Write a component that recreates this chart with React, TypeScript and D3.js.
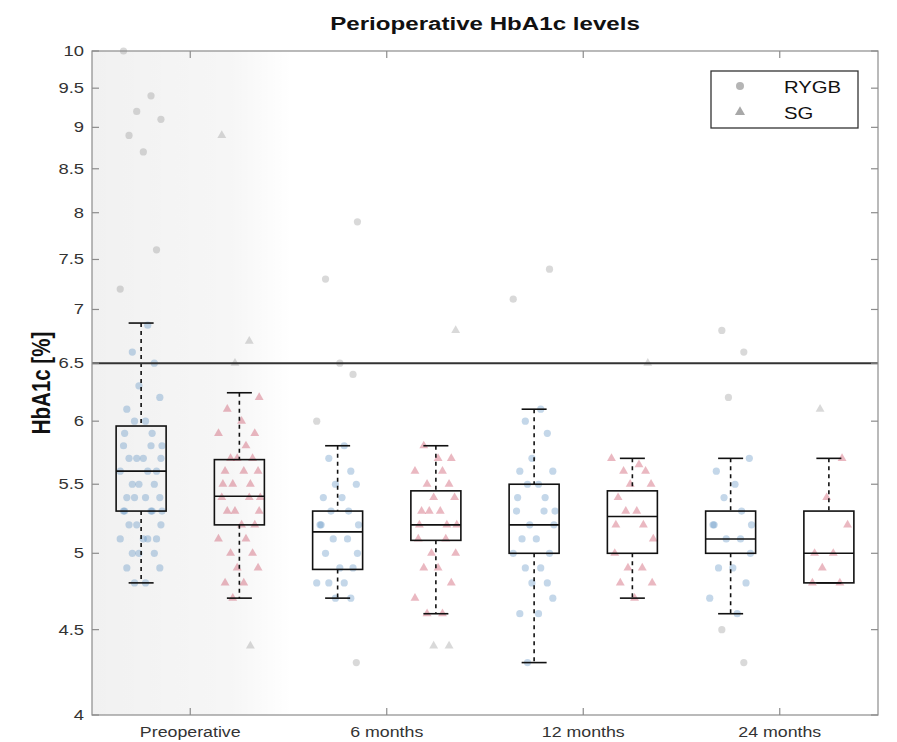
import React from "react";
import * as d3 from "d3";

// ---- data -------------------------------------------------------------
const groups = ["Preoperative", "6 months", "12 months", "24 months"];
const seriesNames = ["RYGB", "SG"];
const yTicks = [4, 4.5, 5, 5.5, 6, 6.5, 7, 7.5, 8, 8.5, 9, 9.5, 10];
const threshold = 6.5;

// box statistics per group: [lower whisker, Q1, median, Q3, upper whisker]
const rygbBoxes = [
  [4.8, 5.3, 5.6, 5.96, 6.87],
  [4.7, 4.89, 5.15, 5.3, 5.8],
  [4.3, 5.0, 5.2, 5.5, 6.1],
  [4.6, 5.0, 5.1, 5.3, 5.7],
];
const sgBoxes = [
  [4.7, 5.2, 5.41, 5.69, 6.24],
  [4.6, 5.09, 5.2, 5.45, 5.8],
  [4.7, 5.0, 5.26, 5.45, 5.7],
  [4.8, 4.8, 5.0, 5.3, 5.7],
];

// individual HbA1c values
const rygbPre = [10.0, 9.4, 9.2, 9.1, 8.9, 8.7, 7.6, 7.2, 6.85, 6.6, 6.5, 6.3, 6.2, 6.1, 6.0, 6.0, 5.9, 5.9, 5.8, 5.8, 5.8, 5.7, 5.7, 5.7, 5.7, 5.6, 5.6, 5.6, 5.5, 5.5, 5.5, 5.4, 5.4, 5.4, 5.4, 5.3, 5.3, 5.3, 5.3, 5.3, 5.2, 5.2, 5.2, 5.1, 5.1, 5.1, 5.1, 5.0, 5.0, 5.0, 4.9, 4.9, 4.8, 4.8];
const rygb6m = [7.9, 7.3, 6.5, 6.4, 6.0, 5.8, 5.7, 5.6, 5.5, 5.5, 5.4, 5.4, 5.3, 5.3, 5.2, 5.2, 5.2, 5.1, 5.1, 5.0, 5.0, 4.9, 4.9, 4.8, 4.8, 4.8, 4.7, 4.7, 4.3];
const rygb12m = [7.4, 7.1, 6.1, 6.0, 5.9, 5.7, 5.6, 5.6, 5.5, 5.5, 5.4, 5.4, 5.3, 5.3, 5.3, 5.2, 5.2, 5.1, 5.1, 5.0, 5.0, 4.9, 4.9, 4.8, 4.8, 4.7, 4.6, 4.6, 4.3];
const rygb24m = [6.8, 6.6, 6.2, 5.7, 5.6, 5.5, 5.4, 5.3, 5.2, 5.2, 5.2, 5.1, 5.1, 5.0, 4.9, 4.9, 4.8, 4.7, 4.6, 4.5, 4.3];
const sgPre = [8.9, 6.7, 6.5, 6.2, 6.1, 6.0, 5.9, 5.9, 5.8, 5.7, 5.7, 5.7, 5.6, 5.6, 5.6, 5.5, 5.5, 5.5, 5.4, 5.4, 5.4, 5.3, 5.3, 5.3, 5.2, 5.2, 5.1, 5.1, 5.0, 5.0, 4.9, 4.9, 4.8, 4.8, 4.7, 4.4];
const sg6m = [6.8, 5.8, 5.7, 5.7, 5.6, 5.6, 5.5, 5.5, 5.4, 5.4, 5.3, 5.3, 5.3, 5.2, 5.2, 5.2, 5.1, 5.1, 5.0, 5.0, 4.9, 4.9, 4.8, 4.7, 4.6, 4.6, 4.4, 4.4];
const sg12m = [6.5, 5.7, 5.65, 5.6, 5.6, 5.5, 5.5, 5.4, 5.3, 5.3, 5.2, 5.2, 5.1, 5.0, 4.9, 4.9, 4.8, 4.8, 4.7];
const sg24m = [6.1, 5.7, 5.4, 5.2, 5.0, 5.0, 4.9, 4.8, 4.8];

const rygbPoints = [rygbPre, rygb6m, rygb12m, rygb24m];
const sgPoints = [sgPre, sg6m, sg12m, sg24m];

// ---- layout & style ---------------------------------------------------
const W = 897;
const H = 742;
const M = { left: 92, right: 19, top: 51, bottom: 27 };
const FONT = "'Liberation Sans', Arial, Helvetica, sans-serif";
const SX = 1.27; // horizontal widening of lettering
const BOX_W = 50;
const CAP_W = 25;
const SPREAD = 22;
const JITTER = [-0.8, 0.45, -0.2, 0.9, -0.55, 0.1, 0.7, -0.95, 0.3, -0.4, 0.6, -0.1, 0.85, -0.65, 0.2, -0.3, 0.5, -0.75, 0.95];
const COLORS: Record<string, string> = { RYGB: "#5b8fc2", SG: "#c43a52" };
const OUT_COLOR = "#8a8a8a";

function StretchText({ x, y, size, anchor = "start", weight = "normal", fill = "#222", children }: any) {
  return (
    <text
      transform={`translate(${x},${y}) scale(${SX},1)`}
      textAnchor={anchor}
      fontFamily={FONT}
      fontSize={size}
      fontWeight={weight}
      fill={fill}
    >
      {children}
    </text>
  );
}

export default function App() {
  const x0 = M.left;
  const x1 = W - M.right;
  const y0 = M.top;
  const y1 = H - M.bottom;

  const y = d3.scaleLog().domain([4, 10]).range([y1, y0]);
  const xGroup = d3.scaleBand<string>().domain(groups).range([x0, x1]).padding(0);
  const xSeries = d3.scaleBand<string>().domain(seriesNames).range([0, xGroup.bandwidth()]).padding(0);

  const tri = d3.symbol().type(d3.symbolTriangle).size(34)();
  const triLegend = d3.symbol().type(d3.symbolTriangle).size(44)();

  const seriesData = [
    { name: "RYGB", boxes: rygbBoxes, points: rygbPoints },
    { name: "SG", boxes: sgBoxes, points: sgPoints },
  ];

  return (
    <svg width={W} height={H} style={{ position: "absolute", left: 0, top: 0, background: "#fff" }}>
      <defs>
        <linearGradient id="leftShade" x1="0" x2="1" y1="0" y2="0">
          <stop offset="0" stopColor="#000" stopOpacity={0.055} />
          <stop offset="0.7" stopColor="#000" stopOpacity={0.035} />
          <stop offset="1" stopColor="#000" stopOpacity={0} />
        </linearGradient>
        <filter id="soft" x="-20%" y="-20%" width="140%" height="140%">
          <feGaussianBlur stdDeviation={0.7} />
        </filter>
      </defs>

      {/* faint shading behind the first group */}
      <rect x={x0} y={y0} width={200} height={y1 - y0} fill="url(#leftShade)" />

      {/* title */}
      <StretchText x={(x0 + x1) / 2} y={30} size={19} anchor="middle" weight="bold" fill="#111">
        Perioperative HbA1c levels
      </StretchText>

      {/* y axis label */}
      <text
        transform={`translate(50,383) rotate(-90) scale(1,1.22)`}
        textAnchor="middle"
        fontFamily={FONT}
        fontSize={20.5}
        fontWeight="bold"
        fill="#111"
      >
        HbA1c [%]
      </text>

      {/* scatter of individual values */}
      <g filter="url(#soft)">
        {seriesData.map((s) =>
          s.points.map((vals, gi) => {
            const cx = (xGroup(groups[gi]) as number) + (xSeries(s.name) as number) + xSeries.bandwidth() / 2;
            const [lo, , , , hi] = s.boxes[gi];
            return vals.map((v, i) => {
              const px = cx + JITTER[(i + gi * 3) % JITTER.length] * SPREAD;
              const py = y(v);
              const outside = v < lo - 1e-9 || v > hi + 1e-9;
              const c = outside ? OUT_COLOR : COLORS[s.name];
              const op = outside ? 0.32 : 0.36;
              return s.name === "RYGB" ? (
                <circle key={`${s.name}-${gi}-${i}`} cx={px} cy={py} r={3.6} fill={c} fillOpacity={op} />
              ) : (
                <path key={`${s.name}-${gi}-${i}`} d={tri as string} transform={`translate(${px},${py})`} fill={c} fillOpacity={op} />
              );
            });
          })
        )}
      </g>

      {/* box plots */}
      {seriesData.map((s) =>
        s.boxes.map((b, gi) => {
          const cx = (xGroup(groups[gi]) as number) + (xSeries(s.name) as number) + xSeries.bandwidth() / 2;
          const [lo, q1, med, q3, hi] = b;
          return (
            <g key={`box-${s.name}-${gi}`} stroke="#111" strokeWidth={1.6} fill="none">
              <line x1={cx} x2={cx} y1={y(hi)} y2={y(q3)} strokeDasharray="4,4" />
              <line x1={cx} x2={cx} y1={y(q1)} y2={y(lo)} strokeDasharray="4,4" />
              <line x1={cx - CAP_W / 2} x2={cx + CAP_W / 2} y1={y(hi)} y2={y(hi)} />
              <line x1={cx - CAP_W / 2} x2={cx + CAP_W / 2} y1={y(lo)} y2={y(lo)} />
              <rect x={cx - BOX_W / 2} y={y(q3)} width={BOX_W} height={y(q1) - y(q3)} />
              <line x1={cx - BOX_W / 2} x2={cx + BOX_W / 2} y1={y(med)} y2={y(med)} />
            </g>
          );
        })
      )}

      {/* diagnostic threshold */}
      <line x1={x0} x2={x1} y1={y(threshold)} y2={y(threshold)} stroke="#333" strokeWidth={2} />

      {/* axes frame */}
      <rect x={x0} y={y0} width={x1 - x0} height={y1 - y0} fill="none" stroke="#8c8c8c" strokeWidth={1.2} />

      {/* y ticks on both sides */}
      {yTicks.map((t) => (
        <g key={`yt-${t}`}>
          <line x1={x0} x2={x0 + 7} y1={y(t)} y2={y(t)} stroke="#8c8c8c" strokeWidth={1.2} />
          <line x1={x1 - 7} x2={x1} y1={y(t)} y2={y(t)} stroke="#8c8c8c" strokeWidth={1.2} />
          <StretchText x={84} y={y(t) + 5} size={14.5} anchor="end" fill="#333">
            {String(t)}
          </StretchText>
        </g>
      ))}

      {/* x ticks top and bottom, category labels */}
      {groups.map((g) => {
        const gx = (xGroup(g) as number) + xGroup.bandwidth() / 2;
        return (
          <g key={`xt-${g}`}>
            <line x1={gx} x2={gx} y1={y1} y2={y1 - 7} stroke="#8c8c8c" strokeWidth={1.2} />
            <line x1={gx} x2={gx} y1={y0} y2={y0 + 7} stroke="#8c8c8c" strokeWidth={1.2} />
            <StretchText x={gx} y={737} size={14} anchor="middle" fill="#333">
              {g}
            </StretchText>
          </g>
        );
      })}

      {/* legend */}
      <g>
        <rect x={711} y={71} width={147} height={57} fill="#fff" stroke="#333" strokeWidth={1.3} />
        <circle cx={740} cy={86} r={4} fill="#b5b5b5" />
        <path d={triLegend as string} transform="translate(740,112)" fill="#a8a8a8" />
        <StretchText x={784} y={93} size={16} fill="#111">RYGB</StretchText>
        <StretchText x={784} y={119} size={16} fill="#111">SG</StretchText>
      </g>
    </svg>
  );
}
